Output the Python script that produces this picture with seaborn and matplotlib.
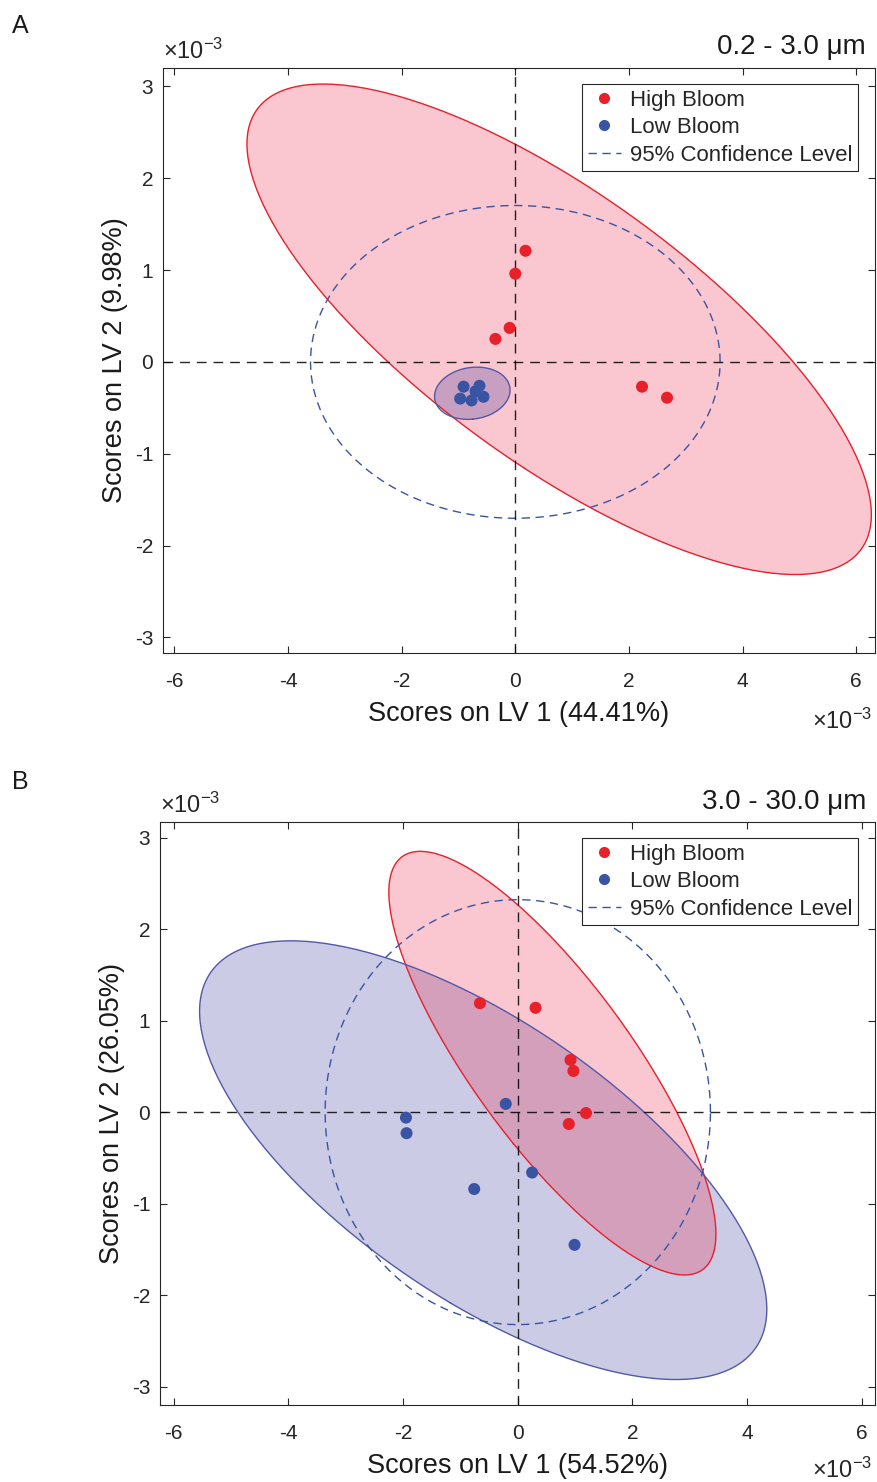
import numpy as np
import pandas as pd
import matplotlib
matplotlib.use("Agg")
import matplotlib.pyplot as plt
import seaborn as sns
from matplotlib.lines import Line2D

# ---------------- data (scores, units of 1e-3) ----------------
groups = ["High Bloom", "Low Bloom"]
a_high_x = [0.18, 0.00, -0.10, -0.35, 2.23, 2.67]
a_high_y = [1.21, 0.96, 0.37, 0.25, -0.27, -0.39]
a_low_x = [-0.91, -0.63, -0.70, -0.97, -0.77, -0.56]
a_low_y = [-0.27, -0.26, -0.32, -0.40, -0.42, -0.38]
b_high_x = [-0.66, 0.31, 0.92, 0.97, 1.19, 0.89]
b_high_y = [1.19, 1.14, 0.57, 0.45, -0.01, -0.13]
b_low_x = [-1.95, -1.94, -0.21, -0.76, 0.25, 0.99]
b_low_y = [-0.06, -0.23, 0.09, -0.84, -0.66, -1.45]
panel_letters = ["A", "B"]
size_titles = ["0.2 - 3.0 μm", "3.0 - 30.0 μm"]
xlabels = ["Scores on LV 1 (44.41%)", "Scores on LV 1 (54.52%)"]
ylabels = ["Scores on LV 2 (9.98%)", "Scores on LV 2 (26.05%)"]
ticks = [-6, -4, -2, 0, 2, 4, 6]
yticks = [-3, -2, -1, 0, 1, 2, 3]

sns.set_style("ticks")
plt.rcParams["font.family"] = ["Liberation Sans", "DejaVu Sans"]
plt.rcParams["mathtext.fontset"] = "custom"
plt.rcParams["mathtext.rm"] = "Liberation Sans"
plt.rcParams["mathtext.it"] = "Liberation Sans:italic"
plt.rcParams["mathtext.default"] = "regular"

RED = "#e8202a"
BLUE = "#3a54a4"
RED_FILL = (0.93, 0.12, 0.25, 0.25)
BLUE_FILL = (0.2, 0.2, 0.6, 0.255)
TXT = "#1a1a1a"


def f95(d):
    # 95% quantile of F(2, d), closed form
    return d / 2.0 * (0.05 ** (-2.0 / d) - 1.0)


def kfac(n):
    return np.sqrt(2.0 * (n - 1) / (n - 2) * f95(n - 2))


def class_ellipse(x, y, npts=300):
    x = np.asarray(x); y = np.asarray(y)
    n = len(x)
    cov = np.cov(np.vstack([x, y]))
    vals, vecs = np.linalg.eigh(cov)
    t = np.linspace(0, 2 * np.pi, npts)
    circ = np.vstack([np.cos(t), np.sin(t)])
    pts = vecs @ (np.sqrt(vals)[:, None] * circ) * kfac(n)
    return pts[0] + x.mean(), pts[1] + y.mean()


def global_ellipse(x, y, npts=300):
    x = np.asarray(x); y = np.asarray(y)
    n = len(x)
    sx = np.sqrt(np.sum(x ** 2) / (n - 1))
    sy = np.sqrt(np.sum(y ** 2) / (n - 1))
    t = np.linspace(0, 2 * np.pi, npts)
    k = kfac(n)
    return k * sx * np.cos(t), k * sy * np.sin(t)


fig = plt.figure(figsize=(8.77, 14.82), dpi=100)
W, H = 877.0, 1482.0

panels = [
    dict(hx=a_high_x, hy=a_high_y, lx=a_low_x, ly=a_low_y,
         box=(163, 68, 875, 653), xlim=(-6.2, 6.33), ylim=(-3.17, 3.2),
         letter_y=14, title_base=54, mult_top_base=59, mult_bot_base=729),
    dict(hx=b_high_x, hy=b_high_y, lx=b_low_x, ly=b_low_y,
         box=(160, 822, 875, 1405), xlim=(-6.24, 6.23), ylim=(-3.2, 3.17),
         letter_y=770, title_base=809, mult_top_base=813, mult_bot_base=1478),
]

for i, p in enumerate(panels):
    l, t, r, b = p["box"]
    ax = fig.add_axes([l / W, 1 - b / H, (r - l) / W, (b - t) / H])

    # class ellipses
    ex, ey = class_ellipse(p["lx"], p["ly"])
    ax.fill(ex, ey, facecolor=BLUE_FILL, edgecolor="none", zorder=1)
    ax.plot(ex, ey, color="#5358a8", lw=1.0, zorder=2.2)
    ex, ey = class_ellipse(p["hx"], p["hy"])
    ax.fill(ex, ey, facecolor=RED_FILL, edgecolor="none", zorder=1.5 if i == 1 else 0.9)
    ax.plot(ex, ey, color=RED, lw=1.0, zorder=2.1)

    # global 95% confidence ellipse
    gx, gy = global_ellipse(list(p["hx"]) + list(p["lx"]), list(p["hy"]) + list(p["ly"]))
    ax.plot(gx, gy, color=BLUE, lw=1.0, ls=(0, (6, 4)), zorder=3)

    # zero lines
    ax.axhline(0, color="black", lw=1.0, ls=(0, (7, 5)), zorder=3, alpha=0.85)
    ax.axvline(0, color="black", lw=1.0, ls=(0, (7, 5)), zorder=3, alpha=0.85)

    df = pd.DataFrame({
        "x": list(p["hx"]) + list(p["lx"]),
        "y": list(p["hy"]) + list(p["ly"]),
        "group": [groups[0]] * len(p["hx"]) + [groups[1]] * len(p["lx"]),
    })
    sns.scatterplot(data=df, x="x", y="y", hue="group",
                    palette={groups[0]: RED, groups[1]: BLUE},
                    s=75, edgecolor="none", legend=False, zorder=5, ax=ax)

    ax.set_xlim(*p["xlim"])
    ax.set_ylim(*p["ylim"])
    ax.set_xticks(ticks)
    ax.set_yticks(yticks)
    ax.set_xticklabels([str(v) for v in ticks])
    ax.set_yticklabels([str(v) for v in yticks])
    ax.tick_params(direction="in", top=True, right=True, length=5, width=0.8,
                   labelsize=15, colors="#262626")
    ax.tick_params(axis="x", pad=14)
    ax.tick_params(axis="y", pad=7)
    for s in ax.spines.values():
        s.set_linewidth(0.8)
        s.set_color("#262626")
    ax.set_xlabel(xlabels[i], fontsize=19.5, color=TXT, labelpad=7)
    ax.set_ylabel(ylabels[i], fontsize=19.5, color=TXT, labelpad=5)

    handles = [
        Line2D([], [], marker="o", ls="none", color=RED, markersize=7),
        Line2D([], [], marker="o", ls="none", color=BLUE, markersize=7),
        Line2D([], [], color=BLUE, lw=1.0, ls=(0, (6, 4))),
    ]
    leg = ax.legend(handles, ["High Bloom", "Low Bloom", "95% Confidence Level"],
                    loc="upper right",
                    bbox_to_anchor=(858 / W, 1 - (t + 16) / H),
                    bbox_transform=fig.transFigure,
                    fontsize=16, frameon=True, fancybox=False, framealpha=1,
                    edgecolor="#262626", handlelength=1.5, handletextpad=0.4,
                    borderpad=0.25, labelspacing=0.3, borderaxespad=0)
    leg.get_frame().set_linewidth(0.8)
    leg.set_zorder(10)

    fig.text(12 / W, 1 - p["letter_y"] / H, panel_letters[i], fontsize=18,
             va="top", ha="left", color=TXT)
    fig.text(866 / W, 1 - p["title_base"] / H, size_titles[i], fontsize=20,
             va="baseline", ha="right", color=TXT)
    fig.text(l / W, 1 - p["mult_top_base"] / H, r"$\times10^{-3}$", fontsize=17,
             va="baseline", ha="left", color="#262626")
    fig.text(872 / W, 1 - p["mult_bot_base"] / H, r"$\times10^{-3}$", fontsize=17,
             va="baseline", ha="right", color="#262626")

fig.savefig("out.png", dpi=100)
